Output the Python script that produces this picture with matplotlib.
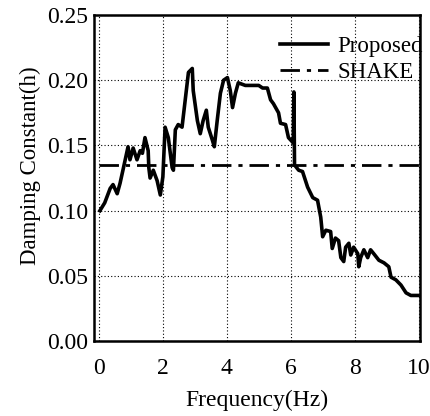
import numpy as np
import matplotlib
matplotlib.use("Agg")
import matplotlib.pyplot as plt

# Proposed curve
freq = [0.03, 0.18, 0.35, 0.44, 0.57, 0.66, 0.75, 0.91, 0.97, 1.07, 1.19, 1.29,
        1.36, 1.44, 1.54, 1.56, 1.60, 1.70, 1.82, 1.92, 2.00, 2.07, 2.17, 2.29,
        2.33, 2.39, 2.48, 2.60, 2.70, 2.80, 2.92, 2.95, 3.08, 3.17, 3.26, 3.36,
        3.42, 3.55, 3.61, 3.70, 3.80, 3.90, 4.02, 4.11, 4.18, 4.27, 4.36, 4.58,
        5.00, 5.12, 5.27, 5.37, 5.46, 5.62, 5.68, 5.84, 5.93, 6.08, 6.10, 6.12,
        6.25, 6.37, 6.53, 6.69, 6.84, 6.94, 7.00, 7.10, 7.25, 7.30, 7.40, 7.50,
        7.57, 7.66, 7.72, 7.82, 7.88, 7.97, 8.10, 8.13, 8.19, 8.29, 8.41, 8.50,
        8.60, 8.76, 8.92, 9.07, 9.14, 9.29, 9.45, 9.61, 9.76, 10.0]
damping = [0.100, 0.106, 0.117, 0.120, 0.113, 0.121, 0.131, 0.149, 0.139, 0.148, 0.139, 0.146,
           0.144, 0.156, 0.146, 0.133, 0.125, 0.131, 0.123, 0.112, 0.126, 0.164, 0.156, 0.133,
           0.131, 0.162, 0.166, 0.164, 0.185, 0.206, 0.209, 0.192, 0.169, 0.159, 0.169, 0.177,
           0.164, 0.154, 0.149, 0.169, 0.190, 0.200, 0.202, 0.192, 0.179, 0.190, 0.198, 0.196,
           0.196, 0.194, 0.194, 0.185, 0.182, 0.175, 0.167, 0.166, 0.156, 0.152, 0.191, 0.135,
           0.131, 0.130, 0.118, 0.110, 0.108, 0.095, 0.080, 0.085, 0.084, 0.071, 0.079, 0.077,
           0.064, 0.061, 0.072, 0.075, 0.066, 0.072, 0.067, 0.057, 0.064, 0.070, 0.064, 0.070,
           0.067, 0.062, 0.060, 0.057, 0.049, 0.047, 0.043, 0.037, 0.035, 0.035]

shake_x = [0.0, 10.0]
shake_y = [0.135, 0.135]

xticks = [0, 2, 4, 6, 8, 10]
yticks = [0.00, 0.05, 0.10, 0.15, 0.20, 0.25]

plt.rcParams['font.family'] = ['Liberation Serif', 'DejaVu Serif']

fig = plt.figure(figsize=(4.3, 4.16), dpi=100)
ax = fig.add_axes([0.219, 0.18, 0.758, 0.784])

ax.plot(freq, damping, color='black', lw=2.6, label='Proposed')
ax.plot(shake_x, shake_y, color='black', lw=2.0, dashes=(7, 2.5, 1.5, 2.5), label='SHAKE')

ax.set_xlim(-0.15, 10.05)
ax.set_ylim(0, 0.25)
ax.set_xticks(xticks)
ax.set_yticks(yticks)
ax.set_xticklabels([str(t) for t in xticks])
ax.set_yticklabels(['%.2f' % t for t in yticks])
ax.tick_params(direction='in', length=0, labelsize=17)
ax.tick_params(axis='x', pad=12)
ax.tick_params(axis='y', pad=4)
ax.grid(True, color='black', linestyle=(0, (1, 2)), lw=0.8)
for s in ax.spines.values():
    s.set_linewidth(1.8)

ax.set_xlabel('Frequency(Hz)', fontsize=17, labelpad=8)
ax.set_ylabel('Damping Constant(h)', fontsize=16.5)
ax.yaxis.set_label_coords(-0.163, 0.537)

ax.legend(loc='upper right', bbox_to_anchor=(1.008, 0.935), frameon=False,
          fontsize=16.5, handlelength=2.1, handletextpad=0.4, labelspacing=0.2,
          borderaxespad=0, borderpad=0)

fig.savefig('out.png', dpi=100)
